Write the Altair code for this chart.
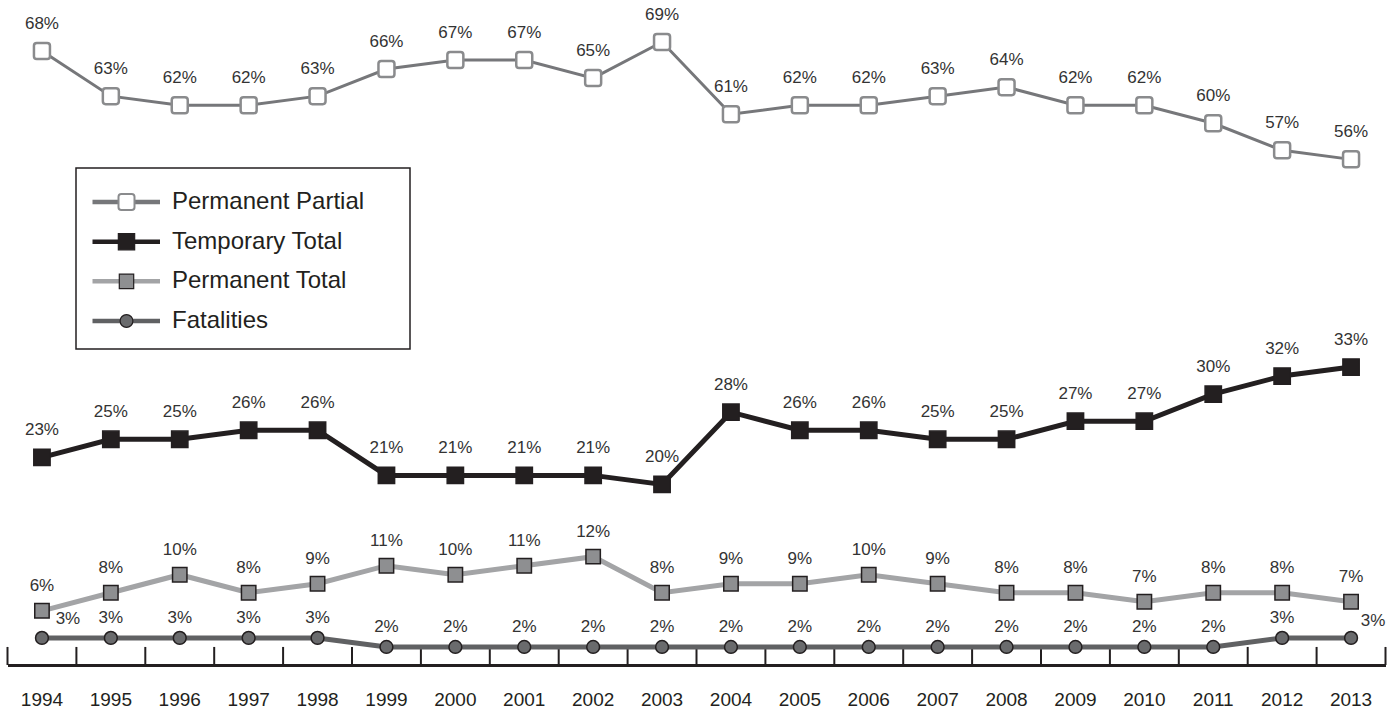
import altair as alt
import pandas as pd

# ---------------- data ----------------
years = list(range(1994, 2014))
series_names = ["Permanent Partial", "Temporary Total", "Permanent Total", "Fatalities"]
series_codes = ["PP", "TT", "PT", "FA"]
permanent_partial = [68, 63, 62, 62, 63, 66, 67, 67, 65, 69, 61, 62, 62, 63, 64, 62, 62, 60, 57, 56]
temporary_total = [23, 25, 25, 26, 26, 21, 21, 21, 21, 20, 28, 26, 26, 25, 25, 27, 27, 30, 32, 33]
permanent_total = [6, 8, 10, 8, 9, 11, 10, 11, 12, 8, 9, 9, 10, 9, 8, 8, 7, 8, 8, 7]
fatalities = [3, 3, 3, 3, 3, 2, 2, 2, 2, 2, 2, 2, 2, 2, 2, 2, 2, 2, 3, 3]

# ---------------- styles ----------------
line_colors = ["#76777a", "#231f20", "#a3a4a6", "#606163"]
marker_fills = ["#ffffff", "#231f20", "#8e8f91", "#6a6b6d"]
rounded_square = ("M-0.65,-1H0.65A0.35,0.35 0 0 1 1,-0.65V0.65A0.35,0.35 0 0 1 0.65,1"
                  "H-0.65A0.35,0.35 0 0 1 -1,0.65V-0.65A0.35,0.35 0 0 1 -0.65,-1Z")
square_big = "M-1.02,-1.02H1.02V1.02H-1.02Z"
square_small = "M-0.9,-0.9H0.9V0.9H-0.9Z"
circle_small = "M-0.8,0A0.8,0.8 0 1 0 0.8,0A0.8,0.8 0 1 0 -0.8,0Z"
marker_shapes = [rounded_square, square_big, square_small, circle_small]

LABEL_FONT = "Liberation Sans"
REGULAR = "Liberation Sans"
DARK = "#231f20"

rows = []
for name, code, vals in zip(series_names, series_codes,
                            [permanent_partial, temporary_total, permanent_total, fatalities]):
    for yr, v in zip(years, vals):
        rows.append({"year": yr, "series": name, "code": code, "value": v})
df = pd.DataFrame(rows)
legend_df = pd.DataFrame({"series": series_names, "code": series_codes})

x_scale = alt.Scale(type="band", domain=years, paddingInner=0, paddingOuter=0)
y_scale = alt.Scale(domain=[0, 73.65], nice=False, zero=True)

x_axis = alt.Axis(title=None, labelAngle=0, labelAlign="center", labelFlush=False,
                  ticks=False, grid=False, domain=True, bandPosition=0.5,
                  domainColor=DARK, domainWidth=3, labelFont=LABEL_FONT,
                  labelFontSize=19, labelColor=DARK, labelPadding=34)

x_enc = alt.X("year:O", scale=x_scale, bandPosition=0.5, axis=x_axis)
y_enc = alt.Y("value:Q", scale=y_scale, axis=None)

stroke_enc = alt.Stroke("series:N", scale=alt.Scale(domain=series_names, range=line_colors),
                        legend=None)
shape_enc = alt.Shape("code:N", scale=alt.Scale(domain=series_codes, range=marker_shapes),
                      legend=None)
fill_enc = alt.Fill("code:N", scale=alt.Scale(domain=series_codes, range=marker_fills),
                    legend=None)

base = alt.Chart(df)

# ---- axis ticks at year boundaries (pointing up) ----
tick_df = pd.DataFrame({"year": years})
ticks = alt.Chart(tick_df).transform_calculate(tb="0", tt="2").mark_rule(
    color=DARK, strokeWidth=2
).encode(x=alt.X("year:O", bandPosition=0), y=alt.Y("tb:Q", scale=y_scale, axis=None),
         y2=alt.Y2("tt:Q"))
end_tick = alt.Chart(pd.DataFrame({"year": [years[-1]]})).transform_calculate(tb="0", tt="2").mark_rule(
    color=DARK, strokeWidth=2
).encode(x=alt.X("year:O", bandPosition=1), y=alt.Y("tb:Q", scale=y_scale, axis=None),
         y2=alt.Y2("tt:Q"))

# ---- series ----
lines_pp = base.transform_filter("datum.code == 'PP'").mark_line(strokeWidth=3).encode(
    x=x_enc, y=y_enc, stroke=stroke_enc)
lines_other = base.transform_filter("datum.code != 'PP'").mark_line(strokeWidth=5).encode(
    x=x_enc, y=y_enc, stroke=stroke_enc)

points_pp = base.transform_filter("datum.code == 'PP'").mark_point(
    filled=True, opacity=1, size=256, stroke="#8a8b8d", strokeWidth=2.5
).encode(x=x_enc, y=y_enc, shape=shape_enc, fill=fill_enc)
points_other = base.transform_filter("datum.code != 'PP'").mark_point(
    filled=True, opacity=1, size=256, stroke=DARK, strokeWidth=1.5
).encode(x=x_enc, y=y_enc, shape=shape_enc, fill=fill_enc)

text_style = dict(font=LABEL_FONT, fontSize=17, color="#333333", align="center", baseline="middle")
text_base = base.transform_calculate(txt="datum.value + '%'")

labels_top = text_base.transform_filter("datum.code == 'PP' || datum.code == 'TT'").mark_text(
    dy=-27, **text_style).encode(x=x_enc, y=y_enc, text="txt:N")
labels_pt = text_base.transform_filter("datum.code == 'PT'").mark_text(
    dy=-25, **text_style).encode(x=x_enc, y=y_enc, text="txt:N")
labels_fat = text_base.transform_filter(
    "datum.code == 'FA' && datum.year != 1994 && datum.year != 2013"
).mark_text(dy=-20, **text_style).encode(x=x_enc, y=y_enc, text="txt:N")
labels_fat_first = text_base.transform_filter(
    "datum.code == 'FA' && datum.year == 1994"
).mark_text(dx=26, dy=-19, **text_style).encode(x=x_enc, y=y_enc, text="txt:N")
labels_fat_last = text_base.transform_filter(
    "datum.code == 'FA' && datum.year == 2013"
).mark_text(dx=22, dy=-17, **text_style).encode(x=x_enc, y=y_enc, text="txt:N")

main = alt.layer(
    ticks, end_tick, lines_pp, lines_other, points_pp, points_other,
    labels_top, labels_pt, labels_fat, labels_fat_first, labels_fat_last
)

# ---- legend (drawn as its own layer with a row scale) ----
leg_y = alt.Y("series:N", scale=alt.Scale(type="point", domain=series_names, range=[202, 321],
                                          padding=0), axis=None)
leg_base = alt.Chart(legend_df)
leg_box = alt.Chart(pd.DataFrame({"box": [1]})).mark_rect(
    fill="transparent", stroke=DARK, strokeWidth=1.5
).encode(x=alt.value(68.5), x2=alt.value(402.5), y=alt.value(168), y2=alt.value(349))
leg_lines = leg_base.mark_rule(strokeWidth=4.5).encode(
    x=alt.value(85), x2=alt.value(152.5), y=leg_y, stroke=stroke_enc)
leg_pts_pp = leg_base.transform_filter("datum.code == 'PP'").mark_point(
    filled=True, opacity=1, size=256, stroke="#8a8b8d", strokeWidth=2
).encode(x=alt.value(119), y=leg_y, shape=shape_enc, fill=fill_enc)
leg_pts_other = leg_base.transform_filter("datum.code != 'PP'").mark_point(
    filled=True, opacity=1, size=256, stroke=DARK, strokeWidth=1.2
).encode(x=alt.value(119), y=leg_y, shape=shape_enc, fill=fill_enc)
leg_text = leg_base.mark_text(
    align="left", baseline="middle", font=REGULAR, fontSize=24, color=DARK
).encode(x=alt.value(164.5), y=leg_y, text="series:N")

legend = alt.layer(leg_box, leg_lines, leg_pts_pp, leg_pts_other, leg_text)

chart = alt.layer(main, legend).resolve_scale(y="independent").properties(
    width=1378,
    height=665,
    padding={"left": 7.5, "right": 12.5, "top": 0, "bottom": 46},
    autosize=alt.AutoSizeParams(type="none"),
).configure_view(stroke=None)

chart.save("out.html", embed_options={"renderer": "svg", "actions": False})
